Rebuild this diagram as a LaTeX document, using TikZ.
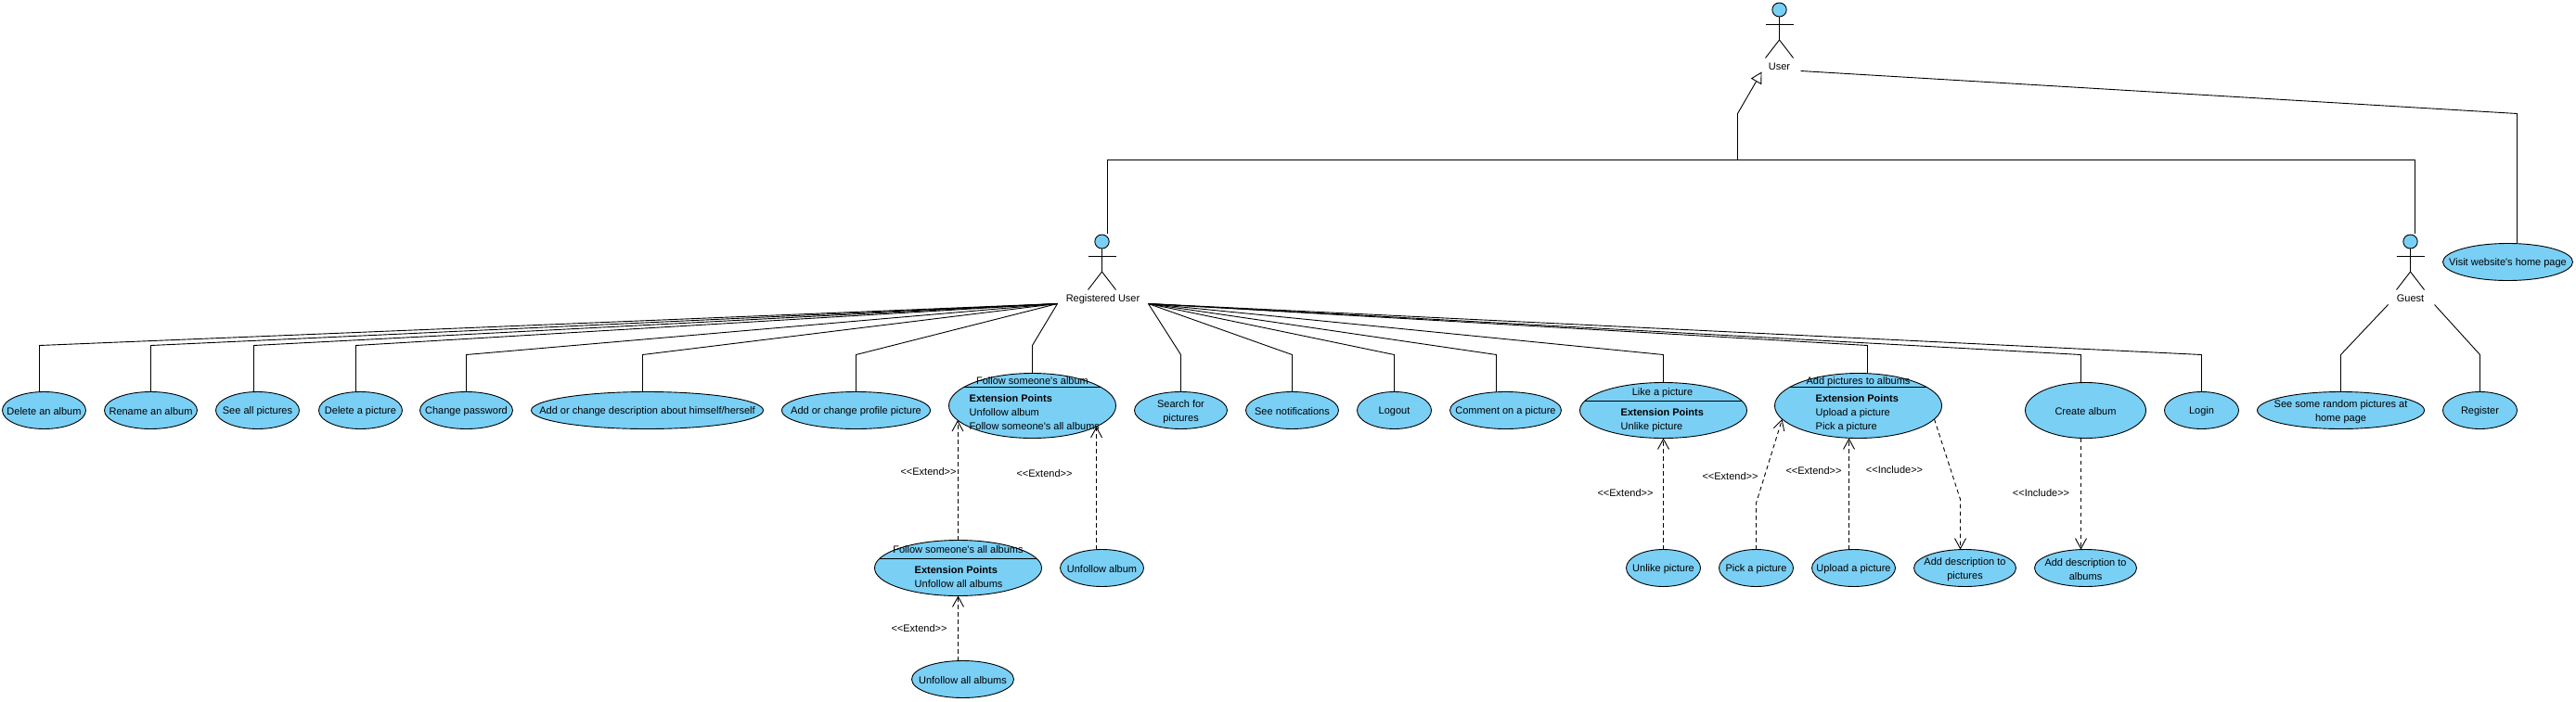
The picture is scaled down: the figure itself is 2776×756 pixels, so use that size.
\documentclass[tikz,border=0pt]{standalone}
\usepackage{fontspec}
\setmainfont[Ligatures=TeXOff]{Liberation Sans}
\usepackage{xcolor}
\usepackage{tikz}
\usetikzlibrary{shapes.geometric, arrows.meta}
\definecolor{caseblue}{RGB}{122, 207, 245}

\newcommand{\stickman}[2]{%
    \draw[assoc, fill=caseblue] (#1,#2) ellipse (7.7 and 7.5);
    \draw[assoc] (#1,#2+7.5) -- (#1,#2+32.5);
    \draw[assoc] (#1-15,#2+16) -- (#1+15,#2+16);
    \draw[assoc] (#1-15,#2+52) -- (#1,#2+32.5) -- (#1+15,#2+52);
}

\begin{document}
\begin{tikzpicture}[
    x=1pt, y=-1pt,
    txt/.style={inner sep=0pt, yshift=-1.5pt, font=\fontsize{11}{15.5}\selectfont, text height=8pt, text depth=2.5pt},
    every label/.style={inner sep=0pt, yshift=-1.5pt, align=center, font=\fontsize{11}{15.5}\selectfont},
    usecase/.style={ellipse, draw=black, fill=caseblue, line width=0.9pt, inner sep=0pt, outer sep=0pt, minimum height=40pt},
    extcase/.style={usecase, minimum width=180pt},
    extline/.style={txt, anchor=west},
    assoc/.style={line width=0.9pt},
    dep/.style={line width=0.9pt, dash pattern=on 4.5pt off 3.5pt, -{Straight Barb[length=11pt, width=12pt]}},
    gen/.style={line width=0.9pt, -{Triangle[open, length=12pt, width=13pt, fill=white]}}
]
    \useasboundingbox (-0.5,-0.5) rectangle (2775.5,755.5);

    % Actors
    \stickman{1917}{10}
    \node[txt] (userlbl) at (1917,71) {User};
    \stickman{1187}{260}
    \node[txt] (registeredlbl) at (1188,321) {Registered User};
    \stickman{2597}{260}
    \node[txt] (guestlbl) at (2597,321) {Guest};

    \coordinate (userport) at (1898,77);
    \coordinate (userright) at (1940,76);
    \coordinate (regtop) at (1193,251);
    \coordinate (regleft) at (1139,327);
    \coordinate (regright) at (1237,327);
    \coordinate (guesttop) at (2602,251);
    \coordinate (guestleft) at (2573,328);
    \coordinate (guestright) at (2623,328);

    % Registered User cases, left side
    \node[usecase, minimum width=90pt, label={center:Delete an album}] (delalbum) at (47,442) {};
    \node[usecase, minimum width=100pt, label={center:Rename an album}] (renalbum) at (162,442) {};
    \node[usecase, minimum width=90pt, label={center:See all pictures}] (seeall) at (277,442) {};
    \node[usecase, minimum width=90pt, label={center:Delete a picture}] (delpic) at (388,442) {};
    \node[usecase, minimum width=100pt, label={center:Change password}] (chpass) at (502,442) {};
    \node[usecase, minimum width=250pt, label={center:Add or change description about himself/herself}] (chdesc) at (697,442) {};
    \node[usecase, minimum width=160pt, label={center:Add or change profile picture}] (chprofile) at (922,442) {};

    % Follow cases
    \node[extcase, minimum height=70pt] (followalbum) at (1112,437) {};
    \draw[assoc] (followalbum.165) -- (followalbum.15);
    \node[txt] (followalbumttl) at (1112,410) {Follow someone's album};
    \node[extline, font=\fontsize{11}{15.5}\selectfont\bfseries] (followalbumext) at (1044,429) {Extension Points};
    \node[extline] (followalbumone) at (1044,444) {Unfollow album};
    \node[extline] (followalbumtwo) at (1044,459) {Follow someone's all albums};

    \node[extcase, minimum height=60pt] (followall) at (1032,612) {};
    \draw[assoc] (followall.173) -- (followall.7);
    \node[txt] (followallttl) at (1032,592) {Follow someone's all albums};
    \node[extline, font=\fontsize{11}{15.5}\selectfont\bfseries] (followallext) at (985,614) {Extension Points};
    \node[extline] (followallone) at (985,629) {Unfollow all albums};

    \node[usecase, minimum width=90pt, label={center:Unfollow album}] (unfollowalbum) at (1187,612) {};
    \node[usecase, minimum width=110pt, label={center:Unfollow all albums}] (unfollowall) at (1037,732) {};

    % Registered User cases, right side
    \node[usecase, minimum width=100pt, label={center:Search for\\pictures}] (search) at (1272,442) {};
    \node[usecase, minimum width=100pt, label={center:See notifications}] (notif) at (1392,442) {};
    \node[usecase, minimum width=80pt, label={center:Logout}] (logout) at (1502,442) {};
    \node[usecase, minimum width=120pt, label={center:Comment on a picture}] (comment) at (1622,442) {};

    % Like cases
    \node[extcase, minimum height=60pt] (like) at (1792,442) {};
    \draw[assoc] (like.173) -- (like.7);
    \node[txt] (likettl) at (1791,422) {Like a picture};
    \node[extline, font=\fontsize{11}{15.5}\selectfont\bfseries] (likeext) at (1746,444) {Extension Points};
    \node[extline] (likeone) at (1746,459) {Unlike picture};
    \node[usecase, minimum width=80pt, label={center:Unlike picture}] (unlike) at (1792,612) {};

    % Add pictures cases
    \node[extcase, minimum height=70pt] (addpics) at (2002,437) {};
    \draw[assoc] (addpics.165) -- (addpics.15);
    \node[txt] (addpicsttl) at (2002,410) {Add pictures to albums};
    \node[extline, font=\fontsize{11}{15.5}\selectfont\bfseries] (addpicsext) at (1956,429) {Extension Points};
    \node[extline] (addpicsone) at (1956,444) {Upload a picture};
    \node[extline] (addpicstwo) at (1956,459) {Pick a picture};
    \node[usecase, minimum width=80pt, label={center:Pick a picture}] (pick) at (1892,612) {};
    \node[usecase, minimum width=90pt, label={center:Upload a picture}] (upload) at (1997,612) {};
    \node[usecase, minimum width=110pt, label={center:Add description to\\pictures}] (descpics) at (2117,612) {};

    % Album cases
    \node[usecase, minimum width=130pt, minimum height=60pt, label={center:Create album}] (create) at (2247,442) {};
    \node[usecase, minimum width=110pt, label={center:Add description to\\albums}] (descalbums) at (2247,612) {};
    \node[usecase, minimum width=80pt, label={center:Login}] (login) at (2372,442) {};

    % Guest cases
    \node[usecase, minimum width=180pt, label={center:See some random pictures at\\home page}] (random) at (2522,442) {};
    \node[usecase, minimum width=80pt, label={center:Register}] (register) at (2672,442) {};
    \node[usecase, minimum width=140pt, label={center:Visit website's home page}] (visit) at (2702,282) {};

    % Generalization
    \draw[assoc] (regtop) -- (1193,172) -- (2602,172) -- (guesttop);
    \draw[gen] (1872,172) -- (1872,122) -- (userport);
    \draw[assoc] (userright) -- (2712,122) -- ([xshift=10pt]visit.north);

    % Associations, left fan
    \draw[assoc] (regleft) -- (42,372) -- ([xshift=-5pt]delalbum.north);
    \draw[assoc] (regleft) -- (162,372) -- (renalbum.north);
    \draw[assoc] (regleft) -- (273,372) -- ([xshift=-4pt]seeall.north);
    \draw[assoc] (regleft) -- (383,372) -- ([xshift=-5pt]delpic.north);
    \draw[assoc] (regleft) -- (502,382) -- (chpass.north);
    \draw[assoc] (regleft) -- (692,382) -- ([xshift=-5pt]chdesc.north);
    \draw[assoc] (regleft) -- (922,382) -- (chprofile.north);
    \draw[assoc] (regleft) -- (1112,372) -- (followalbum.north);

    % Associations, right fan
    \draw[assoc] (regright) -- (1272,382) -- (search.north);
    \draw[assoc] (regright) -- (1392,382) -- (notif.north);
    \draw[assoc] (regright) -- (1502,382) -- (logout.north);
    \draw[assoc] (regright) -- (1612,382) -- ([xshift=-10pt]comment.north);
    \draw[assoc] (regright) -- (1792,382) -- (like.north);
    \draw[assoc] (regright) -- (2012,372) -- ([xshift=10pt]addpics.north);
    \draw[assoc] (regright) -- (2242,382) -- ([xshift=-5pt]create.north);
    \draw[assoc] (regright) -- (2372,382) -- (login.north);

    \draw[assoc] (guestleft) -- (2522,382) -- (random.north);
    \draw[assoc] (guestright) -- (2672,382) -- (register.north);

    % Extend and include
    \draw[dep] (followall.north -| followalbum.191) -- (followalbum.191);
    \draw[dep] (unfollowalbum.north -| followalbum.342) -- (followalbum.342);
    \draw[dep] (unfollowall.north -| followall.south) -- (followall.south);
    \draw[dep] (unlike.north) -- (like.south);
    \draw[dep] (pick.north) -- (1892,542) -- (addpics.190);
    \draw[dep] ([xshift=-5pt]upload.north) -- ([xshift=-10pt]addpics.south);
    \draw[dep] (addpics.350) -- (2112,538) -- ([xshift=-5pt]descpics.north);
    \draw[dep] ([xshift=-5pt]create.south) -- ([xshift=-5pt]descalbums.north);

    \node[txt] (extendone) at (1000,508) {<<Extend>>};
    \node[txt] (extendtwo) at (1125,510) {<<Extend>>};
    \node[txt] (extendthree) at (990,677) {<<Extend>>};
    \node[txt] (extendfour) at (1751,531) {<<Extend>>};
    \node[txt] (extendfive) at (1864,513) {<<Extend>>};
    \node[txt] (extendsix) at (1954,507) {<<Extend>>};
    \node[txt] (includeone) at (2041,506) {<<Include>>};
    \node[txt] (includetwo) at (2199,531) {<<Include>>};

\end{tikzpicture}
\end{document}
